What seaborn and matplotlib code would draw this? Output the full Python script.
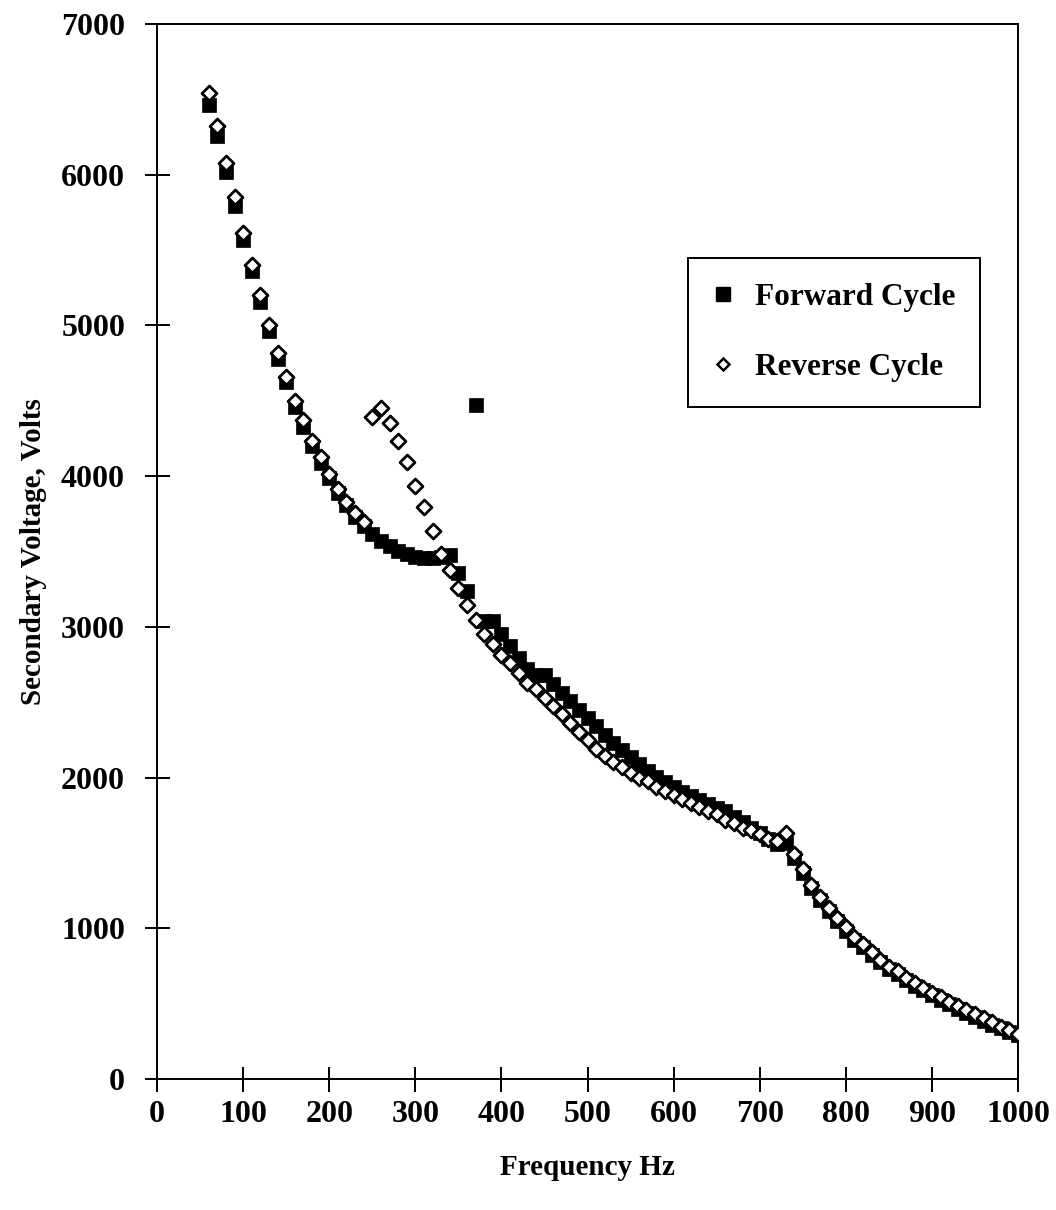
import numpy as np
import pandas as pd
import matplotlib
matplotlib.use("Agg")
import matplotlib.pyplot as plt
from matplotlib.lines import Line2D
import seaborn as sns

# Frequency sweep, 60 Hz to 1000 Hz in 10 Hz steps
freq_hz = list(range(60, 1001, 10))

forward_volts = [
    6465, 6255, 6020, 5790, 5565, 5360, 5155, 4960, 4780, 4625,   # 60-150
    4460, 4325, 4200, 4090, 3985, 3885, 3805, 3730, 3670, 3615,   # 160-250
    3570, 3535, 3505, 3485, 3465, 3458, 3455, 3460, 3475, 3360,   # 260-350
    3240, 4470, 3040, 3040, 2950, 2870, 2790, 2720, 2680, 2680,   # 360-450
    2620, 2560, 2505, 2450, 2395, 2340, 2285, 2230, 2180, 2135,   # 460-550
    2090, 2045, 2005, 1970, 1935, 1905, 1875, 1850, 1825, 1800,   # 560-650
    1775, 1740, 1705, 1665, 1630, 1590, 1560, 1565, 1465, 1365,   # 660-750
    1270, 1190, 1115, 1045, 985, 925, 875, 825, 775, 730,         # 760-850
    695, 655, 620, 590, 555, 525, 495, 465, 440, 410,             # 860-950
    385, 360, 335, 310, 290,                                      # 960-1000
]

reverse_volts = [
    6540, 6320, 6080, 5850, 5610, 5400, 5200, 5000, 4815, 4660,   # 60-150
    4500, 4370, 4235, 4125, 4015, 3915, 3830, 3752, 3693, 4390,   # 160-250
    4450, 4355, 4235, 4095, 3935, 3797, 3633, 3486, 3375, 3258,   # 260-350
    3145, 3045, 2950, 2885, 2815, 2760, 2695, 2630, 2590, 2530,   # 360-450
    2475, 2420, 2365, 2305, 2250, 2190, 2145, 2105, 2070, 2030,   # 460-550
    2000, 1975, 1940, 1913, 1886, 1860, 1831, 1805, 1780, 1755,   # 560-650
    1720, 1695, 1665, 1650, 1625, 1595, 1580, 1630, 1490, 1390,   # 660-750
    1285, 1205, 1135, 1065, 1005, 945, 895, 845, 790, 745,        # 760-850
    715, 672, 638, 605, 572, 542, 510, 482, 455, 428,             # 860-950
    402, 375, 348, 325, 297,                                      # 960-1000
]

x_ticks = list(range(0, 1001, 100))
y_ticks = list(range(0, 7001, 1000))

df_fwd = pd.DataFrame({"freq": freq_hz, "volts": forward_volts})
df_rev = pd.DataFrame({"freq": freq_hz, "volts": reverse_volts})

sns.set_theme(style="ticks")
plt.rcParams["font.family"] = ["Liberation Serif", "DejaVu Serif"]
plt.rcParams["font.weight"] = "bold"
plt.rcParams["text.color"] = "black"
plt.rcParams["axes.labelcolor"] = "black"
plt.rcParams["xtick.color"] = "black"
plt.rcParams["ytick.color"] = "black"

fig = plt.figure(figsize=(10.56, 12.10), dpi=100)
ax = fig.add_axes([0.1487, 0.1083, 0.8154, 0.8719])

sns.scatterplot(data=df_fwd, x="freq", y="volts", ax=ax, marker="s", s=100,
                color="black", edgecolor="black", linewidth=0.5, zorder=3)
sns.scatterplot(data=df_rev, x="freq", y="volts", ax=ax, marker="D", s=58,
                facecolor="white", edgecolor="black", linewidth=2.0, zorder=4)

ax.set_xlim(0, 1000)
ax.set_ylim(0, 7000)
ax.set_xticks(x_ticks)
ax.set_yticks(y_ticks)
ax.set_xticklabels([str(v) for v in x_ticks], fontsize=23, fontweight="bold")
ax.set_yticklabels([str(v) for v in y_ticks], fontsize=23, fontweight="bold")
ax.tick_params(axis="x", which="major", bottom=True, direction="inout",
               length=18, width=1.4, pad=6, colors="black")
ax.tick_params(axis="y", which="major", left=True, direction="inout",
               length=18, width=1.4, pad=14, colors="black")

for side in ["left", "right", "top", "bottom"]:
    ax.spines[side].set_visible(True)
    ax.spines[side].set_color("black")
    ax.spines[side].set_linewidth(1.4)

ax.set_xlabel("Frequency Hz", fontsize=21, fontweight="bold", labelpad=18, color="black")
ax.set_ylabel("Secondary Voltage, Volts", fontsize=21, fontweight="bold", labelpad=10,
              color="black")
ax.grid(False)

handles = [
    Line2D([], [], linestyle="none", marker="s", markersize=9.5,
           markerfacecolor="black", markeredgecolor="black"),
    Line2D([], [], linestyle="none", marker="D", markersize=6.5,
           markerfacecolor="white", markeredgecolor="black", markeredgewidth=1.8),
]
leg = ax.legend(handles, ["Forward Cycle", "Reverse Cycle"],
                loc="upper left", bbox_to_anchor=(0.617, 0.778),
                frameon=True, fancybox=False, shadow=False,
                prop={"family": "Liberation Serif", "weight": "bold", "size": 22.5},
                borderpad=0.8, labelspacing=1.3, handletextpad=0.72,
                handlelength=0.6, borderaxespad=0)
leg.get_frame().set_edgecolor("black")
leg.get_frame().set_linewidth(1.4)
leg.get_frame().set_alpha(1)

fig.savefig("out.png", dpi=100, facecolor="white")
